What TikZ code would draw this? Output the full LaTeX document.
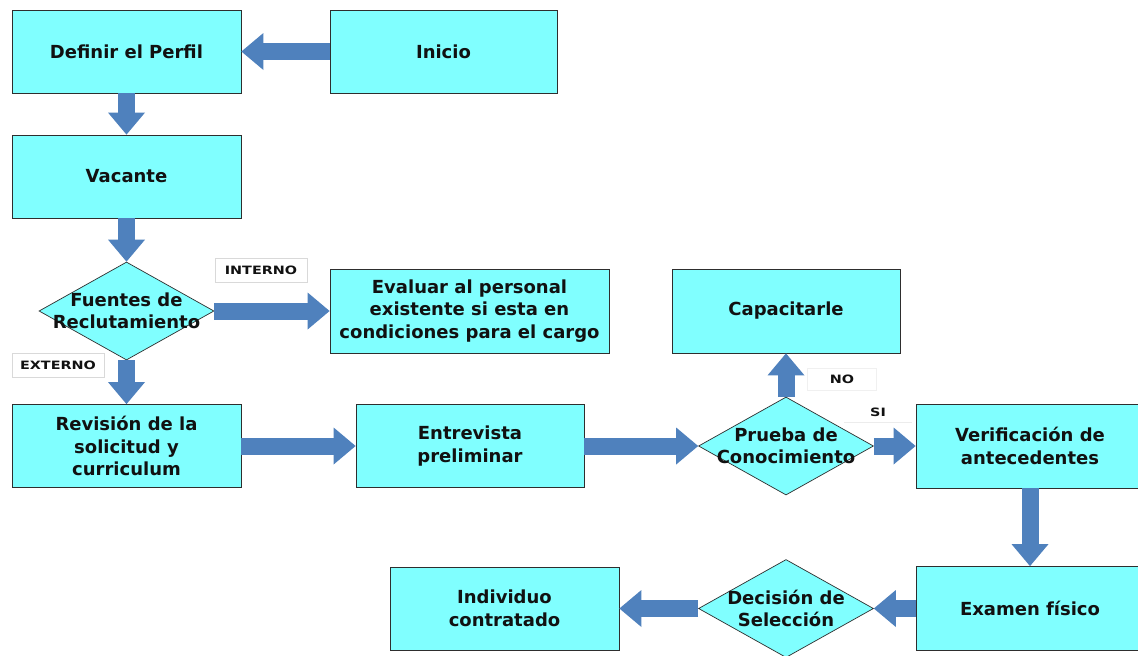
\documentclass[tikz,border=0pt]{standalone}
\usepackage{fontspec}
\setmainfont{DejaVu Sans}
\usetikzlibrary{arrows.meta,shapes.geometric}
\definecolor{boxfill}{HTML}{80FFFF}
\definecolor{flow}{HTML}{4F81BD}
\definecolor{edge}{HTML}{2E2E2E}
\definecolor{ink}{HTML}{111111}
\newcommand{\tagtext}[1]{\scalebox{1.25}[1]{#1}}

\begin{document}
\begin{tikzpicture}[x=1pt,y=-1pt,
  stepbox/.style={draw=edge, line width=0.8pt, fill=boxfill, rectangle,
    inner sep=0pt, minimum width=229pt, minimum height=83pt, align=center,
    text=ink, font=\fontsize{18}{22.5}\selectfont\bfseries},
  decision/.style={draw=edge, line width=0.7pt, fill=boxfill, diamond,
    inner sep=0pt, minimum width=175pt, minimum height=98pt},
  dtext/.style={align=center, inner sep=0pt, text=ink,
    font=\fontsize{18}{22.5}\selectfont\bfseries},
  tag/.style={fill=white, inner sep=0pt, minimum width=92pt,
    minimum height=24pt, text=ink, font=\fontsize{11.5}{13}\selectfont\bfseries},
  flowarrow/.style={draw=flow, line width=17pt,
    -{Triangle[length=22pt,width=37pt,line width=0pt]}}
]
\clip (0,0) rectangle (1138,656);
\fill[white] (0,0) rectangle (1138,656);

% process boxes
\node[stepbox] (def) at (126.5,51.5) {Definir el Perfil};
\node[stepbox, minimum width=227pt] (ini) at (443.5,51.5) {Inicio};
\node[stepbox] (vac) at (126.5,176.5) {Vacante};
\node[stepbox, minimum width=279pt, minimum height=84pt] (eva) at (469.5,311)
  {Evaluar al personal\\existente si esta en\\condiciones para el cargo};
\node[stepbox] (rev) at (126.5,446) {Revisión de la\\solicitud y\\curriculum};
\node[stepbox, minimum width=228pt] (ent) at (470,446) {Entrevista\\preliminar};
\node[stepbox, minimum width=228pt, minimum height=84pt] (cap) at (786,311) {Capacitarle};
\node[stepbox, minimum width=228pt, minimum height=84pt] (ver) at (1030,446)
  {Verificación de\\antecedentes};
\node[stepbox, minimum width=228pt, minimum height=84pt] (exa) at (1030,608.5) {Examen físico};
\node[stepbox] (ind) at (504.5,608.5) {Individuo\\contratado};

% decision diamonds and their texts
\node[decision] (fue) at (126.5,311) {};
\node[dtext] at (fue) {Fuentes de\\Reclutamiento};
\node[decision] (pru) at (786,446) {};
\node[dtext] at (pru) {Prueba de\\Conocimiento};
\node[decision] (dec) at (786,608.5) {};
\node[dtext] at (dec) {Decisión de\\Selección};

% branch labels
\node[tag, draw=gray!30] (tint) at (261,270) {\tagtext{INTERNO}};
\node[tag, draw=gray!30] (text) at (58,365) {\tagtext{EXTERNO}};
\node[tag, draw=gray!12, minimum width=69pt, minimum height=22pt] (tno) at (842,379) {\tagtext{NO}};
\node[tag, minimum width=67pt, minimum height=20pt] (tsi) at (878,412) {\tagtext{SI}};
\draw[gray!15, line width=0.8pt] (tsi.south west) -- (tsi.south east);

% flow arrows
\draw[flowarrow] (ini.west) -- (def.east);
\draw[flowarrow] (def.south) -- (vac.north);
\draw[flowarrow] (vac.south) -- (fue.north);
\draw[flowarrow] (fue.east) -- (eva.west);
\draw[flowarrow] (fue.south) -- (rev.north);
\draw[flowarrow] (rev.east) -- (ent.west);
\draw[flowarrow] (ent.east) -- (pru.west);
\draw[flowarrow] (pru.north) -- (cap.south);
\draw[flowarrow] (pru.east) -- (ver.west);
\draw[flowarrow] (ver.south) -- (exa.north);
\draw[flowarrow] (exa.west) -- (dec.east);
\draw[flowarrow] (dec.west) -- (ind.east);
\end{tikzpicture}
\end{document}
